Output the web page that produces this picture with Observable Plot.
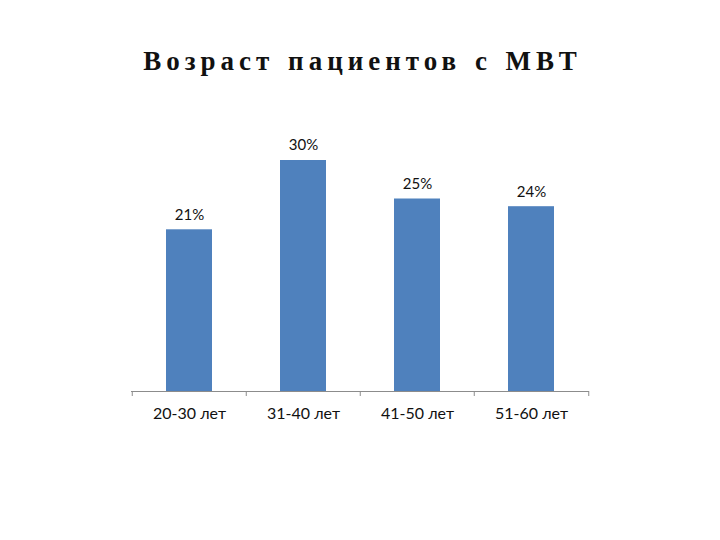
<!DOCTYPE html>
<html><head><meta charset="utf-8">
<script src="https://cdn.jsdelivr.net/npm/d3@7"></script>
<script src="https://cdn.jsdelivr.net/npm/@observablehq/plot@0.6"></script>
<style>
body{margin:0;background:#fff;width:720px;height:540px;overflow:hidden}
#title{height:100px;box-sizing:border-box;padding-top:45px;padding-left:5px;text-align:center;font-family:"Liberation Serif","Times New Roman",serif;font-weight:bold;font-size:27px;letter-spacing:5px;word-spacing:2px;color:#111;line-height:32px}
#chart svg{display:block}
</style></head>
<body>
<div id="title">Возраст пациентов с МВТ</div>
<div id="chart"></div>
<script>
const categories = ["20-30 лет", "31-40 лет", "41-50 лет", "51-60 лет"];
const values = [21, 30, 25, 24];
const labels = ["21%", "30%", "25%", "24%"];

const data = categories.map((c, i) => ({cat: c, value: values[i], label: labels[i]}));

const W = 720, ML = 131, MR = 131;
const step = (W - ML - MR) / categories.length;
const axisGray = "#8c8c8c";

const plot = Plot.plot({
  width: W,
  height: 440,
  marginLeft: ML,
  marginRight: MR,
  marginTop: 60,
  marginBottom: 149,
  style: {fontFamily: "Lato, 'Open Sans', sans-serif", fontSize: "15px", color: "#111"},
  x: {domain: categories, paddingInner: 0.6, paddingOuter: 0.3, label: null},
  y: {domain: [0, d3.max(values)], axis: null},
  marks: [
    Plot.barY(data, {x: "cat", y: "value", fill: "#4F81BD"}),
    Plot.ruleY([0], {stroke: axisGray, strokeWidth: 1}),
    Plot.ruleX(categories, {x: d => d, y1: 0, y2: -0.65, dx: -step / 2, stroke: axisGray}),
    Plot.ruleX(categories.slice(-1), {x: d => d, y1: 0, y2: -0.65, dx: step / 2, stroke: axisGray}),
    Plot.text(data, {x: "cat", y: "value", text: "label", dy: -15, fontSize: 15, fill: "#111"}),
    Plot.axisX({tickSize: 0, tickPadding: 16, fontSize: 16, fill: "#111", label: null})
  ]
});
document.getElementById("chart").appendChild(plot);
</script>
</body></html>
